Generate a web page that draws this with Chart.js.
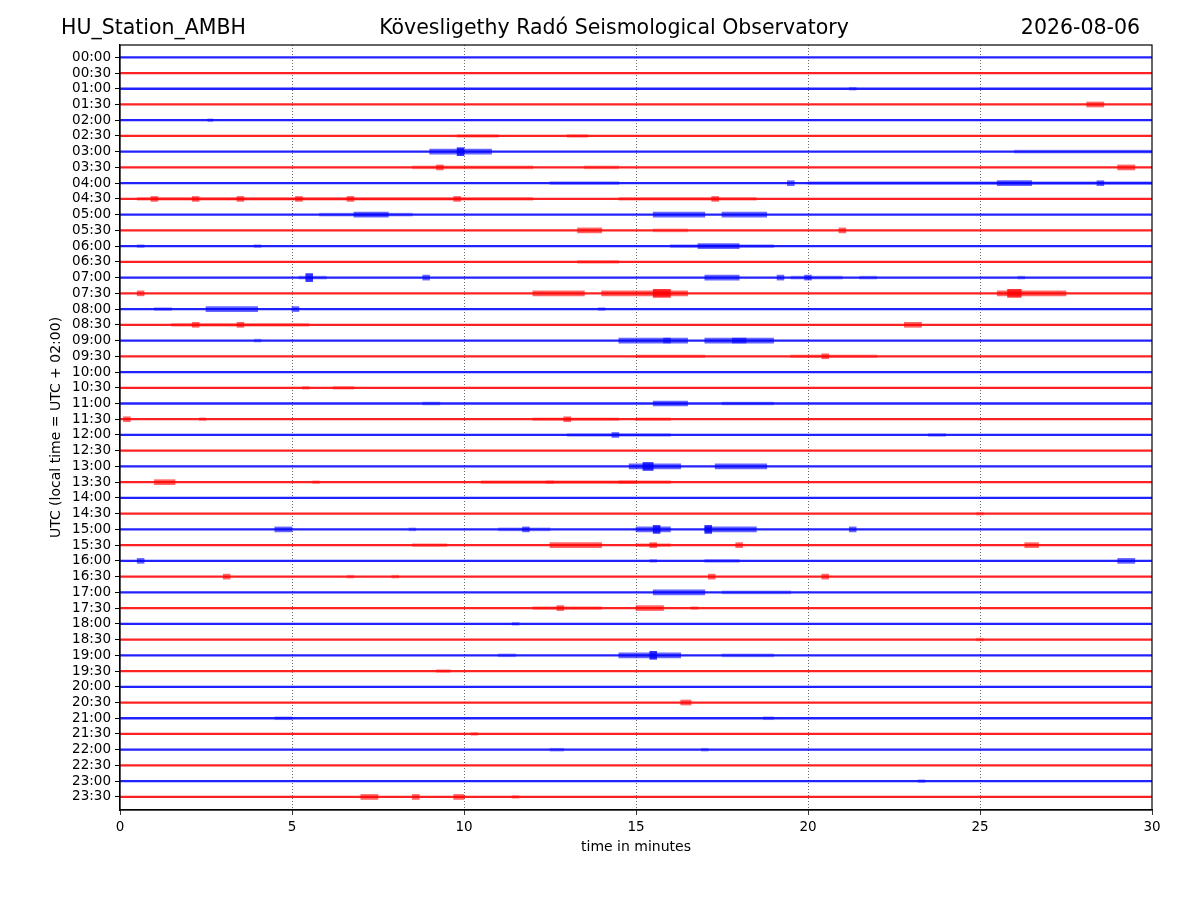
<!DOCTYPE html>
<html>
<head>
<meta charset="utf-8">
<script src="https://cdn.jsdelivr.net/npm/chart.js@4/dist/chart.umd.min.js"></script>
<style>
  body { margin: 0; background: #fff; }
  canvas { display: block; }
</style>
</head>
<body>
<canvas id="helicorder" width="1200" height="900"></canvas>
<script>
// === DATOS ===
const stationName = 'HU_Station_AMBH';
const chartTitle = 'Kövesligethy Radó Seismological Observatory';
const chartDate = '2026-08-06';

// one trace every 30 minutes
const traceLabels = [];
for (let h = 0; h < 24; h++) {
  const hh = String(h).padStart(2, '0');
  traceLabels.push(hh + ':00', hh + ':30');
}
const traceColors = ['#0000ff', '#ff0000'];
const xTicks = [0, 5, 10, 15, 20, 25, 30];

// bursts: [trace, start minute, end minute, level 1..3]
const bursts = [
  [2, 21.2, 21.4, 1], [3, 28.1, 28.6, 2], [4, 2.55, 2.7, 1],
  [5, 9.8, 11.0, 1], [5, 13.0, 13.6, 1],
  [6, 9.0, 10.8, 2], [6, 9.8, 10.0, 3], [6, 26.0, 30.0, 1],
  [7, 8.5, 12.0, 1], [7, 9.2, 9.4, 2], [7, 13.5, 14.5, 1], [7, 29.0, 29.5, 2],
  [8, 12.5, 14.5, 1], [8, 19.4, 19.6, 2], [8, 20.0, 30.0, 1], [8, 25.5, 26.5, 2], [8, 28.4, 28.6, 2],
  [9, 0.5, 12.0, 1], [9, 0.9, 1.1, 2], [9, 2.1, 2.3, 2], [9, 3.4, 3.6, 2], [9, 5.1, 5.3, 2],
  [9, 6.6, 6.8, 2], [9, 9.7, 9.9, 2], [9, 14.5, 18.5, 1], [9, 17.2, 17.4, 2],
  [10, 5.8, 8.5, 1], [10, 6.8, 7.8, 2], [10, 15.5, 17.0, 2], [10, 17.5, 18.8, 2],
  [11, 13.3, 14.0, 2], [11, 15.5, 16.5, 1], [11, 20.9, 21.1, 2],
  [12, 0.5, 0.7, 1], [12, 3.9, 4.1, 1], [12, 16.0, 19.0, 1], [12, 16.8, 18.0, 2],
  [13, 13.3, 14.5, 1],
  [14, 5.2, 6.0, 1], [14, 5.4, 5.6, 3], [14, 8.8, 9.0, 2], [14, 17.0, 18.0, 2], [14, 19.1, 19.3, 2],
  [14, 19.5, 21.0, 1], [14, 19.9, 20.1, 2], [14, 21.5, 22.0, 1], [14, 26.1, 26.3, 1],
  [15, 0.5, 0.7, 2], [15, 12.0, 13.5, 2], [15, 14.0, 16.5, 2], [15, 15.5, 16.0, 3],
  [15, 25.5, 27.5, 2], [15, 25.8, 26.2, 3],
  [16, 1.0, 1.5, 1], [16, 2.5, 4.0, 2], [16, 5.0, 5.2, 2], [16, 13.9, 14.1, 1],
  [17, 1.5, 5.5, 1], [17, 2.1, 2.3, 2], [17, 3.4, 3.6, 2], [17, 22.8, 23.3, 2],
  [18, 3.9, 4.1, 1], [18, 14.5, 16.5, 2], [18, 15.8, 16.0, 2], [18, 17.0, 19.0, 2], [18, 17.8, 18.2, 2],
  [19, 15.0, 17.0, 1], [19, 19.5, 22.0, 1], [19, 20.4, 20.6, 2],
  [21, 5.3, 5.5, 1], [21, 6.2, 6.8, 1],
  [22, 8.8, 9.3, 1], [22, 15.5, 16.5, 2], [22, 17.5, 19.0, 1],
  [23, 0.1, 0.3, 2], [23, 2.3, 2.5, 1], [23, 12.0, 14.5, 1], [23, 12.9, 13.1, 2], [23, 15.0, 16.0, 1],
  [24, 13.0, 16.0, 1], [24, 14.3, 14.5, 2], [24, 23.5, 24.0, 1],
  [26, 14.8, 16.3, 2], [26, 15.2, 15.5, 3], [26, 17.3, 18.8, 2],
  [27, 1.0, 1.6, 2], [27, 5.6, 5.8, 1], [27, 10.5, 16.0, 1], [27, 12.4, 12.6, 1], [27, 14.5, 15.0, 1],
  [29, 24.9, 25.1, 1],
  [30, 4.5, 5.0, 2], [30, 8.4, 8.6, 1], [30, 11.0, 12.5, 1], [30, 11.7, 11.9, 2], [30, 15.0, 16.0, 2],
  [30, 15.5, 15.7, 3], [30, 17.0, 18.5, 2], [30, 17.0, 17.2, 3], [30, 21.2, 21.4, 2],
  [31, 8.5, 9.5, 1], [31, 12.5, 14.0, 2], [31, 15.0, 16.0, 1], [31, 15.4, 15.6, 2], [31, 17.9, 18.1, 2], [31, 26.3, 26.7, 2],
  [32, 0.5, 0.7, 2], [32, 15.4, 15.6, 1], [32, 17.0, 18.0, 1], [32, 29.0, 29.5, 2],
  [33, 3.0, 3.2, 2], [33, 6.6, 6.8, 1], [33, 7.9, 8.1, 1], [33, 17.1, 17.3, 2], [33, 20.4, 20.6, 2],
  [34, 15.5, 17.0, 2], [34, 17.5, 19.5, 1],
  [35, 12.0, 14.0, 1], [35, 12.7, 12.9, 2], [35, 15.0, 15.8, 2], [35, 16.6, 16.8, 1],
  [36, 11.4, 11.6, 1], [37, 24.9, 25.1, 1],
  [38, 11.0, 11.5, 1], [38, 14.5, 16.3, 2], [38, 15.4, 15.6, 3], [38, 17.5, 19.0, 1],
  [39, 9.2, 9.6, 1], [41, 16.3, 16.6, 2],
  [42, 4.5, 5.0, 1], [42, 18.7, 19.0, 1], [43, 10.2, 10.4, 1],
  [44, 12.5, 12.9, 1], [44, 16.9, 17.1, 1], [46, 23.2, 23.4, 1],
  [47, 7.0, 7.5, 2], [47, 8.5, 8.7, 2], [47, 9.7, 10.0, 2], [47, 11.4, 11.6, 1]
];

// === CONSTRUIR DATASETS ===
const grosores = { 1: 3, 2: 5, 3: 8 };
const alfas = { 1: '55', 2: '99', 3: 'cc' };
const datasets = [];

// baseline of every trace across the full 30 minutes
datasets.push({
  data: traceLabels.map((_, i) => ({ y: i, x: [0, 30] })),
  backgroundColor: traceLabels.map((_, i) => traceColors[i % 2] + 'dd'),
  barThickness: 1.6,
  grouped: false
});

[1, 2, 3].forEach(nivel => {
  const sel = bursts.filter(b => b[3] === nivel);
  datasets.push({
    data: sel.map(b => ({ y: b[0], x: [b[1], b[2]] })),
    backgroundColor: sel.map(b => traceColors[b[0] % 2] + alfas[nivel]),
    barThickness: grosores[nivel],
    grouped: false
  });
});

// === TITULOS Y MARCO ===
const titulos = {
  id: 'titulos',
  afterDraw(chart) {
    const { ctx, chartArea } = chart;
    ctx.save();
    ctx.strokeStyle = '#000';
    ctx.lineWidth = 1.2;
    ctx.strokeRect(chartArea.left, chartArea.top, chartArea.right - chartArea.left, chartArea.bottom - chartArea.top);
    ctx.fillStyle = '#000';
    ctx.font = '20.5px "DejaVu Sans"';
    ctx.textBaseline = 'middle';
    ctx.textAlign = 'left';
    ctx.fillText(stationName, 61, 29);
    ctx.textAlign = 'center';
    ctx.fillText(chartTitle, 614, 29);
    ctx.textAlign = 'right';
    ctx.fillText(chartDate, 1140, 29);
    ctx.restore();
  }
};

Chart.defaults.font.family = '"DejaVu Sans"';
Chart.defaults.color = '#000';

new Chart(document.getElementById('helicorder'), {
  type: 'bar',
  data: { datasets },
  options: {
    indexAxis: 'y',
    responsive: false,
    animation: false,
    layout: { padding: { top: 45, right: 48, bottom: 40, left: 48 } },
    plugins: { legend: { display: false }, tooltip: { enabled: false } },
    scales: {
      x: {
        type: 'linear',
        min: 0, max: 30,
        afterBuildTicks: s => { s.ticks = xTicks.map(v => ({ value: v })); },
        afterFit: s => { s.height = 50; },
        ticks: { font: { size: 13.5 }, padding: 4 },
        grid: {
          color: ctx => (ctx.tick && (ctx.tick.value === 0 || ctx.tick.value === 30)) ? 'rgba(0,0,0,0)' : '#444',
          lineWidth: 0.8, tickLength: 5, tickColor: '#000'
        },
        border: { color: '#000', width: 1.2, dash: [1, 2] },
        title: { display: true, text: 'time in minutes', font: { size: 14 }, padding: { top: 0 } }
      },
      y: {
        type: 'linear',
        reverse: true,
        offset: false,
        min: -0.78, max: 47.83,
        afterBuildTicks: s => { s.ticks = traceLabels.map((_, i) => ({ value: i })); },
        afterFit: s => { s.width = 72; },
        ticks: { font: { size: 13.5 }, padding: 4, autoSkip: false, callback: v => traceLabels[v] },
        grid: { drawOnChartArea: false, offset: false, tickLength: 5, tickColor: '#000' },
        border: { color: '#000', width: 1.2 },
        title: { display: true, text: 'UTC (local time = UTC + 02:00)', font: { size: 14 }, padding: 0 }
      }
    }
  },
  plugins: [titulos]
});
</script>
</body>
</html>
